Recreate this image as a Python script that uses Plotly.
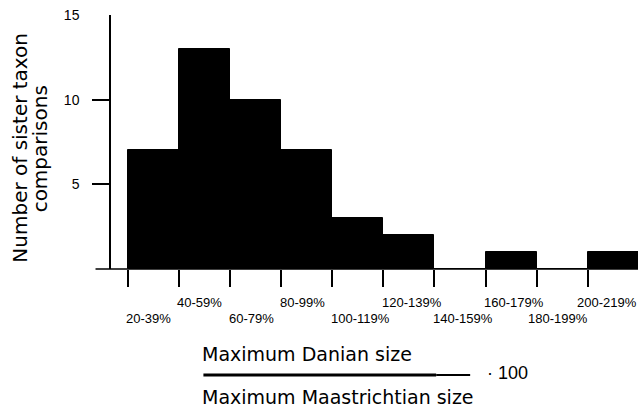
import plotly.graph_objects as go

# ---- data ----
bin_starts = [20, 40, 60, 80, 100, 120, 140, 160, 180, 200]
bin_labels = ["20-39%", "40-59%", "60-79%", "80-99%", "100-119%",
              "120-139%", "140-159%", "160-179%", "180-199%", "200-219%"]
counts = [7, 13, 10, 7, 3, 2, 0, 1, 0, 1]
bin_width = 20
y_tick_values = [5, 10, 15]
y_minor_ticks = [5, 10]
y_title_lines = ["Number of sister taxon", "comparisons"]
x_title_numerator = "Maximum Danian size"
x_title_denominator = "Maximum Maastrichtian size"
x_title_factor = "· 100"

# ---- layout geometry (pixels) ----
FIG_W, FIG_H = 638, 411
L, R_PX, T, B_PX = 110.5, 638.0, 15.0, 269.0
W, H = R_PX - L, B_PX - T

def px_x(p):
    return (p - L) / W

def px_y(p):
    return (B_PX - p) / H

WORD_FONT = "DejaVu Sans"
WORD_WEIGHT = 400
NUM_FONT = "Liberation Sans, Arial, sans-serif"

fig = go.Figure()
fig.add_trace(go.Bar(
    x=bin_starts, y=counts, width=bin_width, offset=0,
    marker=dict(color="black", line=dict(color="black", width=1)),
    hoverinfo="skip", showlegend=False,
))

annotations = []
# x category labels, alternating rows, left aligned at bin start
label_nudge = {8: -7, 9: -9}
for i, (s, lab) in enumerate(zip(bin_starts, bin_labels)):
    yc = 302.8 if i % 2 == 1 else 318.8
    annotations.append(dict(
        x=s, xref="x", y=px_y(yc), yref="paper", text=lab, showarrow=False,
        xanchor="left", yanchor="middle", xshift=-3.5 + label_nudge.get(i, 0),
        font=dict(family=NUM_FONT, size=13, color="black"),
    ))

# y title (two rotated lines)
for line, xc, yc in zip(y_title_lines, [19.1, 39.8], [148.0, 149.0]):
    annotations.append(dict(
        x=px_x(xc), xref="paper", y=px_y(yc), yref="paper", text=line,
        showarrow=False, textangle=-90, xanchor="center", yanchor="middle",
        font=dict(family=WORD_FONT, size=20, color="black", weight=WORD_WEIGHT),
    ))

# x title as a fraction
annotations.append(dict(
    x=px_x(200), xref="paper", y=px_y(354.1), yref="paper", text=x_title_numerator,
    showarrow=False, xanchor="left", yanchor="middle",
    font=dict(family=WORD_FONT, size=19, color="black", weight=WORD_WEIGHT),
))
annotations.append(dict(
    x=px_x(200), xref="paper", y=px_y(396.7), yref="paper", text=x_title_denominator,
    showarrow=False, xanchor="left", yanchor="middle",
    font=dict(family=WORD_FONT, size=19, color="black", weight=WORD_WEIGHT),
))
annotations.append(dict(
    x=px_x(484.5), xref="paper", y=px_y(373.1), yref="paper", text=x_title_factor,
    showarrow=False, xanchor="left", yanchor="middle",
    font=dict(family=NUM_FONT, size=18, color="black"),
))

shapes = [
    # extended x-axis baseline
    dict(type="line", xref="paper", yref="paper", x0=px_x(95), x1=1.0, y0=0, y1=0,
         line=dict(color="black", width=1.5)),
    # fraction bar
    dict(type="line", xref="paper", yref="paper", x0=px_x(203), x1=px_x(436),
         y0=px_y(375), y1=px_y(375), line=dict(color="black", width=3)),
    dict(type="line", xref="paper", yref="paper", x0=px_x(436), x1=px_x(470),
         y0=px_y(375), y1=px_y(375), line=dict(color="black", width=2)),
]

fig.update_layout(
    width=FIG_W, height=FIG_H, autosize=False,
    margin=dict(l=L, r=FIG_W - R_PX, t=T, b=FIG_H - B_PX, pad=0),
    paper_bgcolor="white", plot_bgcolor="white",
    bargap=0,
    xaxis=dict(
        range=[13.43, 219.66], tickvals=bin_starts, ticks="outside", ticklen=17,
        tickwidth=1.5, tickcolor="black", showticklabels=False, showgrid=False,
        zeroline=False, showline=False, fixedrange=True,
    ),
    yaxis=dict(
        range=[0, 15], tickvals=y_tick_values, ticks="", showline=True,
        linewidth=1.5, linecolor="black", showgrid=False, zeroline=False,
        tickfont=dict(family=NUM_FONT, size=14, color="black"),
        ticklabelstandoff=27,
        minor=dict(tickvals=y_minor_ticks, ticks="outside", ticklen=17,
                   tickwidth=2, tickcolor="black", showgrid=False),
        fixedrange=True,
    ),
    annotations=annotations,
    shapes=shapes,
)

fig.write_html(
    "out.html",
    config={"displayModeBar": False},
    post_script="document.body.style.margin='0';document.body.style.overflow='hidden';",
)
